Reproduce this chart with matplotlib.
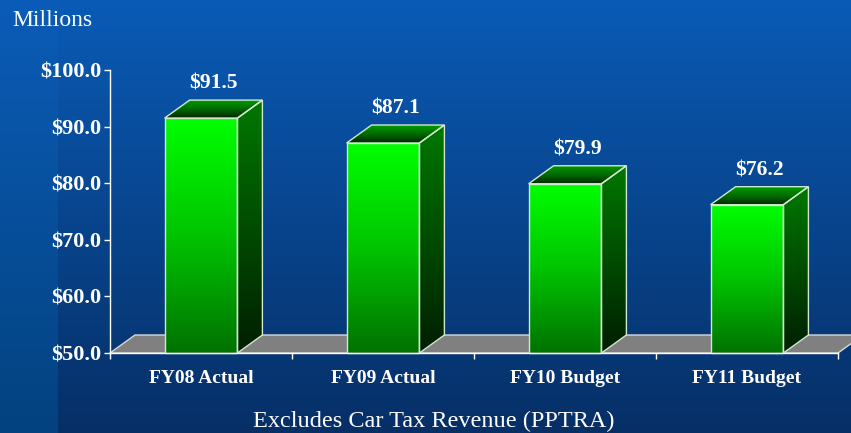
import numpy as np
import matplotlib.pyplot as plt
from matplotlib.patches import Polygon
from matplotlib.colors import to_rgb, LinearSegmentedColormap

categories = ["FY08 Actual", "FY09 Actual", "FY10 Budget", "FY11 Budget"]
values = [91.5, 87.1, 79.9, 76.2]
value_labels = ["$91.5", "$87.1", "$79.9", "$76.2"]
yticks = [50, 60, 70, 80, 90, 100]
ytick_labels = ["$50.0", "$60.0", "$70.0", "$80.0", "$90.0", "$100.0"]

plt.rcParams['font.family'] = ['Liberation Serif', 'DejaVu Serif']

W, H = 851, 433
fig = plt.figure(figsize=(W / 100, H / 100), dpi=100)

# background gradient (slightly lighter strip on the far left)
bg = fig.add_axes([0, 0, 1, 1])
bg.set_axis_off()
t = np.linspace(0, 1, H)[:, None]
top_main, bot_main = np.array(to_rgb("#0a5bb6")), np.array(to_rgb("#062f66"))
top_side, bot_side = np.array(to_rgb("#0b5cb8")), np.array(to_rgb("#03427f"))
img = np.zeros((H, W, 3))
img[:, :, :] = (top_main + (bot_main - top_main) * t)[:, None, :]
img[:, :58, :] = (top_side + (bot_side - top_side) * t)[:, None, :]
bg.imshow(img, extent=[0, 1, 0, 1], aspect='auto', origin='upper')

# main axes
x0p, y0p, x1p, y1p = 110, 353, 838, 70
ax = fig.add_axes([x0p / W, 1 - y0p / H, (x1p - x0p) / W, (y0p - y1p) / H])
ax.patch.set_alpha(0)
ax.set_xlim(0, len(categories))
ax.set_ylim(50, 100)

dx = 25 / 182.0
dy = 18 / 5.66
bw = 0.4
edge = "#cfe8cf"

# floor
floor = Polygon([(0, 50), (4, 50), (4 + dx, 50 + dy), (dx, 50 + dy)],
                closed=True, facecolor="#808080", edgecolor="#d8d8d8",
                lw=1, clip_on=False, zorder=1)
ax.add_patch(floor)

front_cm = LinearSegmentedColormap.from_list("front", ["#007200", "#00c400", "#00ff00"])
side_cm = LinearSegmentedColormap.from_list("side", ["#001e00", "#004c00", "#007800"])
top_cm = LinearSegmentedColormap.from_list("top", ["#002800", "#006a00", "#009c00"])
grad = np.linspace(0, 1, 256)[:, None]

for i, v in enumerate(values):
    xa = i + 0.5 - bw / 2
    xb = i + 0.5 + bw / 2
    # front face
    ax.imshow(grad, cmap=front_cm, extent=[xa, xb, 50, v], origin='lower',
              aspect='auto', zorder=3)
    ax.add_patch(Polygon([(xa, 50), (xb, 50), (xb, v), (xa, v)], closed=True,
                         fill=False, edgecolor=edge, lw=1, zorder=5, clip_on=False))
    # side face
    side = Polygon([(xb, 50), (xb + dx, 50 + dy), (xb + dx, v + dy), (xb, v)],
                   closed=True, facecolor='none', edgecolor=edge, lw=1,
                   zorder=5, clip_on=False)
    ax.add_patch(side)
    im = ax.imshow(grad, cmap=side_cm, extent=[xb, xb + dx, 50, v + dy],
                   origin='lower', aspect='auto', zorder=3)
    im.set_clip_path(side)
    # top face
    topf = Polygon([(xa, v), (xb, v), (xb + dx, v + dy), (xa + dx, v + dy)],
                   closed=True, facecolor='none', edgecolor=edge, lw=1,
                   zorder=5, clip_on=False)
    ax.add_patch(topf)
    im = ax.imshow(grad, cmap=top_cm, extent=[xa, xb + dx, v, v + dy],
                   origin='lower', aspect='auto', zorder=3)
    im.set_clip_path(topf)
    # value label
    ax.annotate(value_labels[i], (i + 0.5 + dx / 2, v + dy), xytext=(0, 8),
                textcoords='offset points', ha='center', va='baseline',
                color='white', fontsize=15.5, fontweight='bold')

ax.set_xlim(0, len(categories))
ax.set_ylim(50, 100)

for s in ['top', 'right']:
    ax.spines[s].set_visible(False)
for s in ['left', 'bottom']:
    ax.spines[s].set_color('white')
    ax.spines[s].set_linewidth(1)
    ax.spines[s].set_zorder(6)

ax.set_yticks(yticks)
ax.set_yticklabels(ytick_labels, fontsize=16, fontweight='bold', color='white')
ax.tick_params(axis='y', colors='white', length=4.5, width=1, pad=2)

ax.set_xticks(np.arange(len(categories)) + 0.5)
ax.set_xticklabels(categories, fontsize=14, fontweight='bold', color='white')
ax.set_xticks(np.arange(len(categories) + 1), minor=True)
ax.tick_params(axis='x', which='major', length=0, pad=12, colors='white')
ax.tick_params(axis='x', which='minor', length=4, width=1, colors='white', direction='out')

fig.text(12 / W, 1 - 20 / H, "Millions", color='white', fontsize=17,
         ha='left', va='center')
fig.text(434 / W, 1 - 427 / H, "Excludes Car Tax Revenue (PPTRA)", color='white',
         fontsize=17.5, ha='center', va='baseline')

fig.savefig("out.png", dpi=100)
